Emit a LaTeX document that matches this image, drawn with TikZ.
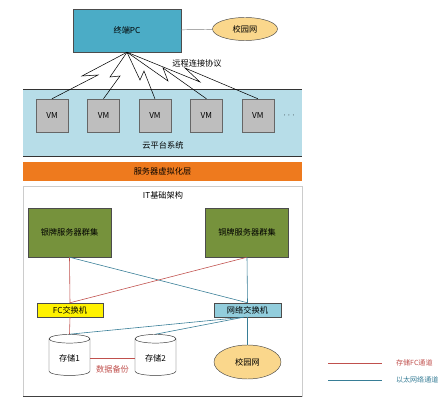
\documentclass[tikz,border=0pt]{standalone}
\usepackage{fontspec}
\setmainfont{Noto Sans CJK SC}
\usepackage{tikz}
\usetikzlibrary{positioning}
\usetikzlibrary{shapes.geometric}
\usetikzlibrary{calc}

\definecolor{pcblue}{RGB}{75,172,198}
\definecolor{campusyellow}{RGB}{250,215,140}
\definecolor{cloudblue}{RGB}{183,221,232}
\definecolor{layerorange}{RGB}{238,122,30}
\definecolor{clustergreen}{RGB}{118,146,60}
\definecolor{switchblue}{RGB}{146,205,220}
\definecolor{vmgray}{RGB}{190,190,190}
\definecolor{fcred}{RGB}{192,80,77}
\definecolor{ethblue}{RGB}{55,125,150}

\begin{document}
\begin{tikzpicture}[x=0.03cm,y=-0.03cm,font=\fontsize{7}{8}\selectfont,
	vmbox/.style={fill=vmgray,draw=black!60,rectangle,minimum width=0.96cm,minimum height=0.99cm},
	fcline/.style={draw=fcred,line width=0.5pt},
	ethline/.style={draw=ethblue,line width=0.5pt},
	bolt/.style={draw=black,line width=0.45pt}]
		\useasboundingbox (0,0) rectangle (446,400);
		% top: terminal and campus net
		\node[fill = pcblue, draw = black!70,rectangle,minimum width = 3.24cm,minimum height = 1.29cm] at (127,30.5) (pc) {终端PC};
		\node[fill = campusyellow, draw = black!70,ellipse,minimum width = 1.95cm,minimum height = 0.69cm] at (245,29) (campus1) {校园网};
		\draw[draw = black!50] (pc) -- (campus1);
		% cloud platform
		\fill[cloudblue] (23,89) rectangle (302,156);
		\draw[black!80] (23,89) -- (302,89);
		\draw[black!80,line width=0.7pt] (23,156) -- (302,156);
		\node[vmbox] at (52,115.5) (vm1) {VM};
		\node[vmbox,right = 0.57cm of vm1] (vm2) {VM};
		\node[vmbox,right = 0.57cm of vm2] (vm3) {VM};
		\node[vmbox,right = 0.57cm of vm3] (vm4) {VM};
		\node[vmbox,right = 0.57cm of vm4] (vm5) {VM};
		\node[right = 0.15cm of vm5] (vmdots) {$\cdots$};
		\node at (163,145) (cloudlabel) {云平台系统};
		% remote links
		\draw[bolt] (pc.south) -- (82,76) -- (98,75) -- (vm1.north);
		\draw[bolt] (pc.south) -- (110,77) -- (120,76) -- (vm2.north);
		\draw[bolt] (pc.south) -- (140,80) -- (144,71) -- (vm3.north);
		\draw[bolt] (pc.south) -- (168,81) -- (163,68) -- (vm4.north);
		\draw[bolt] (pc.south) -- (200,82) -- (185,68) -- (vm5.north);
		\node at (197,63) (protocol) {远程连接协议};
		% virtualization layer
		\node[fill = layerorange,rectangle,minimum width = 8.37cm,minimum height = 0.57cm] at (162.5,171.5) (virt) {服务器虚拟化层};
		% IT infrastructure
		\draw[gray!40] (23,186) rectangle (302,396);
		\draw[black!75,line width=0.6pt] (23,396) -- (302,396);
		\node at (163,195) (itlabel) {IT基础架构};
		\node[fill = clustergreen, draw = black!70,rectangle,minimum width = 2.49cm,minimum height = 1.47cm] at (69.5,232.5) (silver) {银牌服务器群集};
		\node[fill = clustergreen, draw = black!70,rectangle,minimum width = 2.49cm,minimum height = 1.47cm] at (247,232.5) (bronze) {铜牌服务器群集};
		\node[fill = yellow, draw = black!70,rectangle,minimum width = 1.98cm,minimum height = 0.42cm,inner sep=0pt] at (70,310) (fcsw) {FC交换机};
		\node[fill = switchblue, draw = black!70,rectangle,minimum width = 2.01cm,minimum height = 0.42cm,inner sep=0pt] at (247.5,310) (netsw) {网络交换机};
		\node[cylinder,shape border rotate=90,aspect=0.3,draw = black!80,fill = white,minimum width = 1.23cm,minimum height = 1.23cm] at (69.5,358.5) (stor1) {存储1};
		\node[cylinder,shape border rotate=90,aspect=0.3,draw = black!80,fill = white,minimum width = 1.23cm,minimum height = 1.23cm] at (155.5,358.5) (stor2) {存储2};
		\node[fill = campusyellow, draw = black!70,ellipse,minimum width = 2.01cm,minimum height = 1.02cm] at (247.5,362) (campus2) {校园网};
		\draw[fcline] (silver.south) -- (fcsw.north);
		\draw[ethline] (silver.south) -- (netsw.north);
		\draw[fcline] (bronze.south) -- (fcsw.north);
		\draw[ethline] (bronze.south) -- (netsw.north);
		\draw[fcline] (fcsw.south) -- (stor1.north);
		\draw[ethline] ([xshift=-0.12cm]netsw.south) -- (stor1.north);
		\draw[ethline] ([xshift=-0.12cm]netsw.south) -- (stor2.north);
		\draw[ethline] (netsw.south) -- (campus2.north);
		\draw[fcline] (stor1.east) -- (stor2.west) node[midway,below = 0.1cm,text = fcred] (backup) {数据备份};
		% legend
		\coordinate (fcA) at (328,363);
		\coordinate (fcB) at (382,363);
		\coordinate (ethA) at (328,380);
		\coordinate (ethB) at (382,380);
		\draw[fcline] (fcA) -- (fcB);
		\draw[ethline] (ethA) -- (ethB);
		\node[right = 0.3cm of fcB,text = fcred,font=\fontsize{6}{7}\selectfont] (fclabel) {存储FC通道};
		\node[right = 0.3cm of ethB,text = ethblue,font=\fontsize{6}{7}\selectfont] (ethlabel) {以太网络通道};
	\end{tikzpicture}
\end{document}
